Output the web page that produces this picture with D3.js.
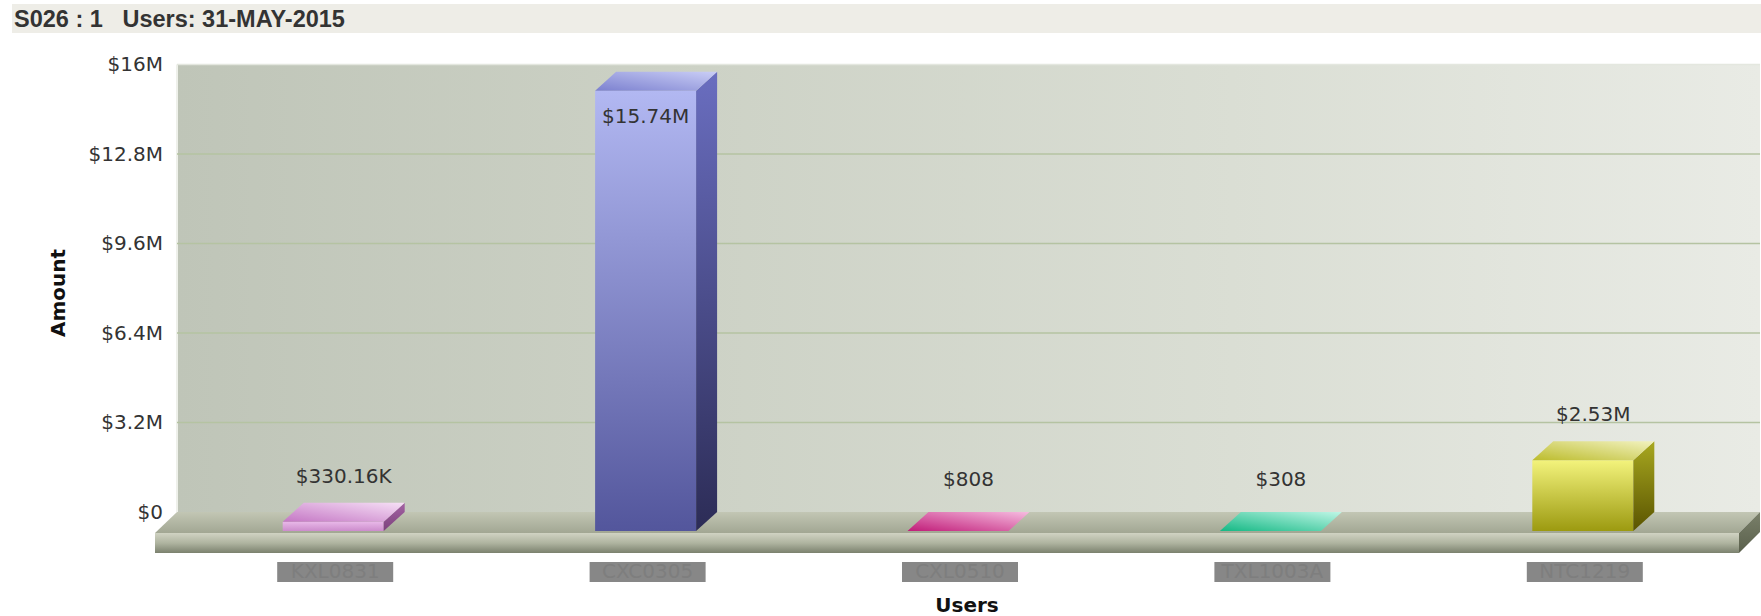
<!DOCTYPE html>
<html>
<head>
<meta charset="utf-8">
<script src="https://cdn.jsdelivr.net/npm/d3@7"></script>
<style>
    body { margin: 0; background: #fff; }
    svg { display: block; }
</style>
</head>
<body>
<div id="chart"></div>
<script>

// ---- data ----
const users = ["KXL0831", "CXC0305", "CXL0510", "TXL1003A", "NTC1219"];
const amounts = [330160, 15740000, 808, 308, 2530000];
const amountTicks = [0, 3200000, 6400000, 9600000, 12800000, 16000000];
const chartTitle = "S026 : 1\u00a0\u00a0\u00a0Users: 31-MAY-2015";

// bar colours (front / side / top face gradients)
const palette = [
    {front: ["#e8b8e8", "#cc8ccc"], side: ["#a462a4", "#7c427c"], top: ["#c476c4", "#f6e0f6"]},
    {front: ["#b2b8f2", "#53569c"], side: ["#6a6ec0", "#2c2c56"], top: ["#7b80cf", "#cacef6"]},
    {front: ["#e070b0", "#c01c78"], side: ["#a01868", "#700e48"], top: ["#c01c78", "#f6bce0"]},
    {front: ["#60e0b8", "#14b884"], side: ["#109870", "#086848"], top: ["#14b884", "#bff6e6"]},
    {front: ["#f3f37c", "#9c9a10"], side: ["#a8a820", "#5a5400"], top: ["#bcbc2c", "#f2f2c0"]}
];

const width = 1761, height = 616;
const depth = {dx: 21, dy: -19};
const barWidth = 101;

const svg = d3.select("#chart").append("svg")
    .attr("width", width)
    .attr("height", height);

const defs = svg.append("defs");

function gradient(id, stops, dir) {
    let g = defs.append("linearGradient").attr("id", id);
    if (dir === "v") g.attr("x1", 0).attr("y1", 0).attr("x2", 0).attr("y2", 1);
    else if (dir === "h") g.attr("x1", 0).attr("y1", 0).attr("x2", 1).attr("y2", 0);
    else g.attr("x1", 0).attr("y1", 1).attr("x2", 1).attr("y2", 0);
    stops.forEach((c, i) => {
        g.append("stop")
            .attr("offset", i / (stops.length - 1))
            .attr("stop-color", c);
    });
}

gradient("wallGrad", ["#bfc5b8", "#cdd2c6", "#dadeD4", "#e9ebe5"], "h");
gradient("floorTop", ["#c2c6b4", "#a2a793"], "v");
gradient("floorFront", ["#d0d3c3", "#afb4a0", "#7b816e"], "v");
gradient("floorSide", ["#7a806a", "#5a604c"], "v");
palette.forEach((p, i) => {
    gradient("front" + i, p.front, "v");
    gradient("side" + i, p.side, "v");
    gradient("top" + i, p.top, "d");
});

// ---- title bar ----
svg.append("rect")
    .attr("x", 12).attr("y", 4)
    .attr("width", width - 12).attr("height", 29)
    .attr("fill", "#eeede7");

svg.append("text")
    .attr("x", 14).attr("y", 27)
    .attr("font-family", "'Liberation Sans', Arial, sans-serif")
    .attr("font-weight", "bold")
    .attr("font-size", "23.5px")
    .attr("fill", "#333")
    .text(chartTitle);

// ---- scales ----
const x = d3.scaleBand()
    .domain(users)
    .range([177, 1739]);

// front plane (bars) and back wall share the same scale, shifted by the depth
const yFront = d3.scaleLinear()
    .domain([0, 16000000])
    .range([531, 83.5]);

const yBack = d3.scaleLinear()
    .domain([0, 16000000])
    .range([531 + depth.dy, 83.5 + depth.dy]);

const wallLeft = 177, wallRight = 1760;

// ---- back wall ----
svg.append("rect")
    .attr("x", wallLeft)
    .attr("y", yBack(16000000))
    .attr("width", wallRight - wallLeft)
    .attr("height", yBack(0) - yBack(16000000))
    .attr("fill", "url(#wallGrad)");

svg.append("line")
    .attr("x1", wallLeft).attr("x2", wallLeft)
    .attr("y1", yBack(16000000)).attr("y2", yBack(0))
    .attr("stroke", "#eef0ea").attr("stroke-width", 2);

svg.append("line")
    .attr("x1", wallLeft).attr("x2", wallRight)
    .attr("y1", yBack(16000000)).attr("y2", yBack(16000000))
    .attr("stroke", "#e4e7df").attr("stroke-width", 1.5);

// gridlines
svg.selectAll(".grid")
    .data(amountTicks.filter(d => d > 0 && d < 16000000))
    .enter().append("line")
    .attr("class", "grid")
    .attr("x1", wallLeft).attr("x2", wallRight)
    .attr("y1", d => yBack(d)).attr("y2", d => yBack(d))
    .attr("stroke", "#b5c3a2")
    .attr("stroke-width", 1.5);

// ---- floor ----
const floorBack = yBack(0), floorFront = floorBack + 21, floorBottom = floorFront + 20;
const floorL = 155, floorR = 1739;

svg.append("polygon")
    .attr("points", [[wallLeft, floorBack], [wallRight, floorBack], [floorR, floorFront], [floorL, floorFront]].join(" "))
    .attr("fill", "url(#floorTop)");

svg.append("rect")
    .attr("x", floorL).attr("y", floorFront)
    .attr("width", floorR - floorL).attr("height", floorBottom - floorFront)
    .attr("fill", "url(#floorFront)");

svg.append("polygon")
    .attr("points", [[floorR, floorFront], [wallRight, floorBack], [wallRight, floorBack + 20], [floorR, floorBottom]].join(" "))
    .attr("fill", "url(#floorSide)");

// ---- bars ----
const bars = svg.selectAll(".bar")
    .data(users.map((u, i) => ({user: u, amount: amounts[i], i: i})))
    .enter().append("g")
    .attr("class", "bar");

bars.each(function (d) {
    let g = d3.select(this);
    let x0 = x(d.user) + x.bandwidth() / 2 - barWidth / 2;
    let x1 = x0 + barWidth;
    let yTop = yFront(d.amount), yBot = yFront(0);

    if (yBot - yTop > 0.5) {
        g.append("rect")
            .attr("x", x0).attr("y", yTop)
            .attr("width", barWidth).attr("height", yBot - yTop)
            .attr("fill", `url(#front${d.i})`);

        g.append("polygon")
            .attr("points", [[x1, yBot], [x1 + depth.dx, yBot + depth.dy], [x1 + depth.dx, yTop + depth.dy], [x1, yTop]].join(" "))
            .attr("fill", `url(#side${d.i})`);
    }

    g.append("polygon")
        .attr("points", [[x0, yTop], [x1, yTop], [x1 + depth.dx, yTop + depth.dy], [x0 + depth.dx, yTop + depth.dy]].join(" "))
        .attr("fill", `url(#top${d.i})`);
});

// value labels
function fmtAmount(v) {
    if (v >= 1e6) return "$" + (v / 1e6).toFixed(2) + "M";
    if (v >= 1e3) return "$" + (v / 1e3).toFixed(2) + "K";
    return "$" + v;
}

const wallTop = yBack(16000000);

bars.append("text")
    .attr("x", d => {
        let cx = x(d.user) + x.bandwidth() / 2;
        return yFront(d.amount) + depth.dy - 27 < wallTop ? cx : cx + depth.dx / 2;
    })
    .attr("y", d => {
        let top = yFront(d.amount);
        if (top + depth.dy - 27 < wallTop) return top + 32;
        return Math.min(top + depth.dy, 506) - 20;
    })
    .attr("text-anchor", "middle")
    .attr("font-family", "'DejaVu Sans', Verdana, sans-serif")
    .attr("font-size", "20px")
    .attr("fill", "#333")
    .text(d => fmtAmount(d.amount));

// ---- y axis ----
const yAxis = d3.axisLeft(yBack)
    .tickValues(amountTicks)
    .tickSize(0)
    .tickPadding(14)
    .tickFormat(d => d === 0 ? "$0" : "$" + (d / 1e6) + "M");

const yAxisGroup = svg.append("g")
    .attr("class", "y-axis")
    .attr("transform", `translate(${wallLeft}, 0)`)
    .call(yAxis);

yAxisGroup.select(".domain").remove();
yAxisGroup.selectAll("text")
    .attr("font-family", "'DejaVu Sans', Verdana, sans-serif")
    .attr("font-size", "20px")
    .attr("fill", "#333");

// ---- x category labels (grey boxes) ----
const cats = svg.selectAll(".cat")
    .data(users)
    .enter().append("g")
    .attr("class", "cat")
    .attr("transform", d => `translate(${x(d) + x.bandwidth() / 2 + 2}, 0)`);

cats.append("text")
    .attr("y", 578)
    .attr("text-anchor", "middle")
    .attr("font-family", "'DejaVu Sans', Verdana, sans-serif")
    .attr("font-size", "20px")
    .attr("fill", "#ececec")
    .text(d => d);

cats.append("rect")
    .attr("x", -58).attr("y", 562)
    .attr("width", 116).attr("height", 20)
    .attr("fill", "#878787");

cats.each(function (d, i) {
    defs.append("clipPath").attr("id", "catClip" + i)
        .append("rect")
        .attr("x", -58).attr("y", 562)
        .attr("width", 116).attr("height", 20);
});

cats.append("text")
    .attr("y", 578)
    .attr("text-anchor", "middle")
    .attr("clip-path", (d, i) => `url(#catClip${i})`)
    .attr("font-family", "'DejaVu Sans', Verdana, sans-serif")
    .attr("font-size", "20px")
    .attr("fill", "#7e7e7e")
    .text(d => d);

// ---- axis titles ----
svg.append("text")
    .attr("transform", "translate(65, 293) rotate(-90)")
    .attr("text-anchor", "middle")
    .attr("font-family", "'DejaVu Sans', Verdana, sans-serif")
    .attr("font-weight", "bold")
    .attr("font-size", "20px")
    .attr("fill", "#111")
    .text("Amount");

svg.append("text")
    .attr("x", 967)
    .attr("y", 612)
    .attr("text-anchor", "middle")
    .attr("font-family", "'DejaVu Sans', Verdana, sans-serif")
    .attr("font-weight", "bold")
    .attr("font-size", "20px")
    .attr("fill", "#111")
    .text("Users");

</script>
</body>
</html>
